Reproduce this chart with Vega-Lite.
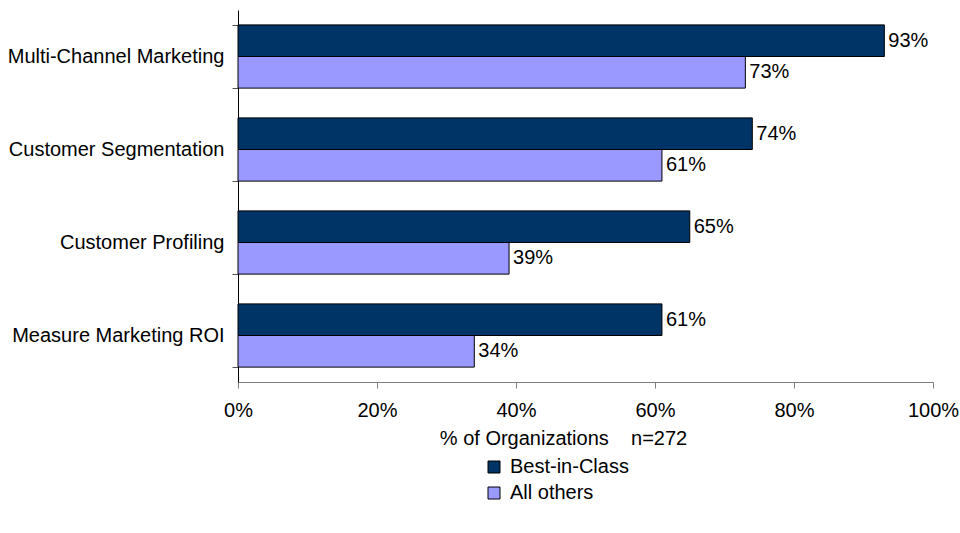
{
  "$schema": "https://vega.github.io/schema/vega-lite/v6.json",
  "width": 695,
  "height": 372,
  "autosize": {"type": "none"},
  "padding": {"left": 238, "top": 10, "right": 27, "bottom": 151},
  "background": "white",
  "config": {"font": "Liberation Sans", "view": {"stroke": null}},
  "data": {
    "values": [
      {"category": "Multi-Channel Marketing", "series": "Best-in-Class", "value": 0.93},
      {"category": "Multi-Channel Marketing", "series": "All others", "value": 0.73},
      {"category": "Customer Segmentation", "series": "Best-in-Class", "value": 0.74},
      {"category": "Customer Segmentation", "series": "All others", "value": 0.61},
      {"category": "Customer Profiling", "series": "Best-in-Class", "value": 0.65},
      {"category": "Customer Profiling", "series": "All others", "value": 0.39},
      {"category": "Measure Marketing ROI", "series": "Best-in-Class", "value": 0.61},
      {"category": "Measure Marketing ROI", "series": "All others", "value": 0.34}
    ]
  },
  "encoding": {
    "y": {
      "field": "category",
      "type": "nominal",
      "sort": ["Multi-Channel Marketing", "Customer Segmentation", "Customer Profiling", "Measure Marketing ROI"],
      "scale": {"paddingInner": 0.32, "paddingOuter": 0.16},
      "axis": {
        "title": null,
        "domainColor": "black",
        "tickColor": "#555555",
        "tickBand": "extent",
        "tickSize": 6,
        "labelFontSize": 20,
        "labelColor": "black",
        "labelPadding": 8,
        "labelLimit": 0,
        "labelExpr": "datum.value == 'Customer Profiling' ? datum.value + '\u00a0' : datum.value"
      }
    },
    "yOffset": {"field": "series", "sort": ["Best-in-Class", "All others"]},
    "x": {
      "field": "value",
      "type": "quantitative",
      "scale": {"domain": [0, 1]},
      "axis": {
        "values": [0, 0.2, 0.4, 0.6, 0.8, 1],
        "format": ".0%",
        "grid": false,
        "domainColor": "#808080",
        "tickColor": "#808080",
        "tickSize": 6,
        "labelFontSize": 20,
        "labelColor": "black",
        "labelPadding": 12,
        "labelFlush": false,
        "labelOverlap": false,
        "title": "% of Organizations\u00a0\u00a0\u00a0\u00a0n=272",
        "titleFontSize": 20,
        "titleFontWeight": "normal",
        "titleColor": "black",
        "titleX": 325,
        "titleY": 56,
        "titleAlign": "center",
        "titleBaseline": "middle"
      }
    }
  },
  "layer": [
    {
      "mark": {"type": "bar", "stroke": "black", "strokeWidth": 1},
      "encoding": {
        "color": {
          "field": "series",
          "type": "nominal",
          "scale": {"domain": ["Best-in-Class", "All others"], "range": ["#003366", "#9999FF"]},
          "legend": {
            "title": null,
            "orient": "none",
            "legendX": 246,
            "legendY": 447,
            "symbolType": "square",
            "symbolSize": 144,
            "symbolStrokeColor": "black",
            "symbolStrokeWidth": 1,
            "labelFontSize": 20,
            "labelColor": "black",
            "labelOffset": 6,
            "rowPadding": 6
          }
        }
      }
    },
    {
      "mark": {"type": "text", "align": "left", "baseline": "middle", "dx": 4, "fontSize": 20, "color": "black"},
      "encoding": {
        "text": {"field": "value", "type": "quantitative", "format": ".0%"}
      }
    }
  ]
}
